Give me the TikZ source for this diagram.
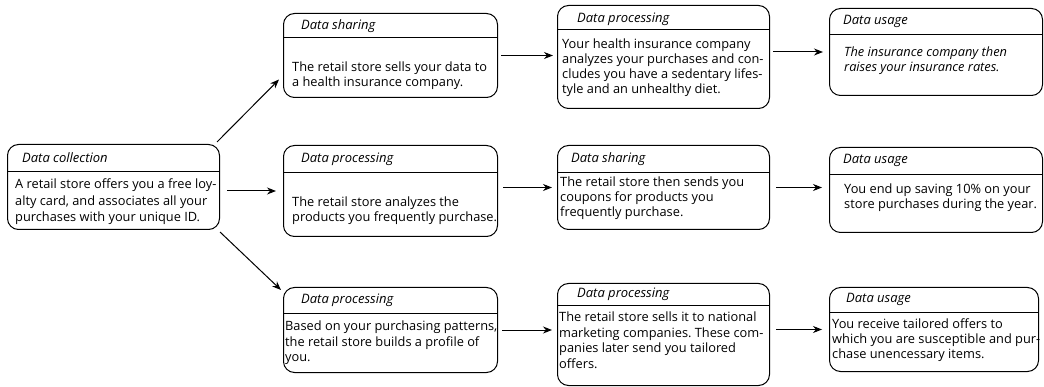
\documentclass[tikz,border=0pt]{standalone}
\usepackage{fontspec}
\setmainfont{Open Sans}
\frenchspacing
\usetikzlibrary{arrows.meta}
\tikzset{
  box/.style={draw, line width=1pt, rounded corners=11pt, anchor=north west, inner sep=0pt},
  hdr/.style={anchor=west, inner sep=0pt, font=\itshape\fontsize{13}{15}\selectfont},
  body/.style={anchor=north west, inner sep=0pt, align=left, font=\fontsize{12.8}{15}\selectfont},
  sep/.style={line width=0.8pt},
  arr/.style={line width=1pt, -{Stealth[length=9pt,width=7pt]}},
}
\begin{document}
\begin{tikzpicture}[x=1pt,y=-1pt]
\useasboundingbox (0,0) rectangle (1044,387);
% boxes
\node[box, minimum width=212pt, minimum height=85pt] (A) at (7,144) {};
\node[box, minimum width=214pt, minimum height=84pt] (B1) at (283,13) {};
\node[box, minimum width=212pt, minimum height=103pt] (C1) at (557,5) {};
\node[box, minimum width=213pt, minimum height=87pt] (D1) at (829,8) {};
\node[box, minimum width=214pt, minimum height=91pt] (B2) at (283,145) {};
\node[box, minimum width=212pt, minimum height=84pt] (C2) at (557,145) {};
\node[box, minimum width=213pt, minimum height=85pt] (D2) at (829,147) {};
\node[box, minimum width=214pt, minimum height=85pt] (B3) at (283,287) {};
\node[box, minimum width=212pt, minimum height=102pt] (C3) at (557,283) {};
\node[box, minimum width=209pt, minimum height=84pt] (D3) at (829,287) {};
% separators
\draw[sep] (A.west |- 0,171) -- (A.east |- 0,171);
\draw[sep] (B1.west |- 0,37) -- (B1.east |- 0,37);
\draw[sep] (C1.west |- 0,29) -- (C1.east |- 0,29);
\draw[sep] (D1.west |- 0,34) -- (D1.east |- 0,34);
\draw[sep] (B2.west |- 0,172) -- (B2.east |- 0,172);
\draw[sep] (C2.west |- 0,172) -- (C2.east |- 0,172);
\draw[sep] (D2.west |- 0,174) -- (D2.east |- 0,174);
\draw[sep] (B3.west |- 0,313) -- (B3.east |- 0,313);
\draw[sep] (C3.west |- 0,305) -- (C3.east |- 0,305);
\draw[sep] (D3.west |- 0,312) -- (D3.east |- 0,312);
% headers
\node[hdr] (Ah) at (22,158) {Data collection};
\node[hdr] (B1h) at (301,26) {Data sharing};
\node[hdr] (C1h) at (577,19) {Data processing};
\node[hdr] (D1h) at (843,21) {Data usage};
\node[hdr] (B2h) at (301,159) {Data processing};
\node[hdr] (C2h) at (571,159) {Data sharing};
\node[hdr] (D2h) at (843,160) {Data usage};
\node[hdr] (B3h) at (301,300) {Data processing};
\node[hdr] (C3h) at (577,294) {Data processing};
\node[hdr] (D3h) at (846,299) {Data usage};
% bodies
\node[body, font=\fontsize{12.8}{16.5}\selectfont] (Ab) at (15,179) {A retail store offers you a free loy-\\alty card, and associates all your\\purchases with your unique ID.};
\node[body] (B1b) at (292,62) {The retail store sells your data to\\a health insurance company.};
\node[body] (C1b) at (562,39) {Your health insurance company\\analyzes your purchases and con-\\cludes you have a sedentary lifes-\\tyle and an unhealthy diet.};
\node[body, font=\itshape\fontsize{12.8}{15}\selectfont] (D1b) at (844,47) {The insurance company then\\raises your insurance rates.};
\node[body] (B2b) at (292,197) {The retail store analyzes the\\products you frequently purchase.};
\node[body] (C2b) at (560,177) {The retail store then sends you\\coupons for products you\\frequently purchase.};
\node[body] (D2b) at (844,184) {You end up saving 10\% on your\\store purchases during the year.};
\node[body, font=\fontsize{12.8}{15.5}\selectfont] (B3b) at (285,321) {Based on your purchasing patterns,\\the retail store builds a profile of\\you.};
\node[body, font=\fontsize{12.8}{15.5}\selectfont] (C3b) at (559,312) {The retail store sells it to national\\marketing companies. These com-\\panies later send you tailored\\offers.};
\node[body] (D3b) at (832,319) {You receive tailored offers to\\which you are susceptible and pur-\\chase unencessary items.};
% arrows
\draw[arr] ([xshift=-3pt,yshift=2pt]A.north east) -- ([xshift=-4pt,yshift=-24pt]B1.west);
\draw[arr] ([xshift=7pt]A.east |- B2.west) -- ([xshift=-7pt]B2.west);
\draw[arr] ([yshift=-2pt]A.south east) -- ([xshift=-2pt,yshift=-3pt]B3.north west);
\draw[arr] ([xshift=3pt]B1.east) -- ([xshift=-4pt]C1.west |- B1.east);
\draw[arr] ([xshift=3pt]C1.east |- D1.west) -- ([xshift=-6pt]D1.west);
\draw[arr] ([xshift=5pt]B2.east |- C2.west) -- ([xshift=-5pt]C2.west);
\draw[arr] ([xshift=6pt]C2.east) -- ([xshift=-7pt]D2.west |- C2.east);
\draw[arr] ([xshift=4pt]B3.east) -- ([xshift=-5pt]C3.west |- B3.east);
\draw[arr] ([xshift=6pt]C3.east |- D3.west) -- ([xshift=-7pt]D3.west);
\end{tikzpicture}
\end{document}
